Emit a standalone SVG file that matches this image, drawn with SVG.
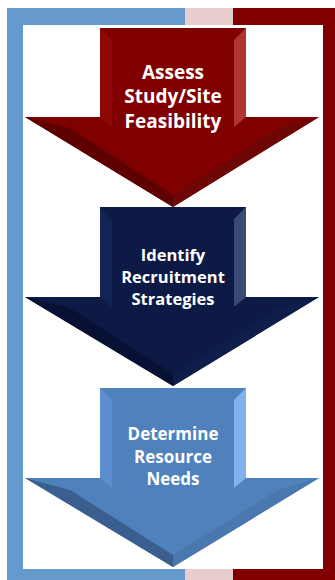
<svg xmlns="http://www.w3.org/2000/svg" width="335" height="580" viewBox="0 0 335 580">
<style>
.t{font-family:"Open Sans","Liberation Sans",sans-serif;font-weight:bold;fill:#fff;text-anchor:middle}
</style>
<g id="frame">
<rect x="7" y="8" width="328" height="572" fill="#800000"/>
<rect x="7" y="8" width="178" height="572" fill="#6699CC"/>
<rect x="185" y="8" width="48" height="572" fill="#E6CCCC"/>
<rect x="323" y="8" width="12" height="572" fill="#800000"/>
<rect x="23" y="25" width="300" height="544" fill="#fff"/>
</g>
<g id="connectors"/>
<g id="step1">
<polygon points="100,28 246,28 246,117 319,117 173,207 25,117 100,117" fill="#800000"/>
<polygon points="100,28 112,40 112,127 100,117" fill="#8E0606"/>
<polygon points="246,28 234,40 234,127 246,117" fill="#B03434"/>
<polygon points="25,117 70,128 173,195 173,207" fill="#5E0000"/>
<polygon points="319,117 278,128 173,195 173,207" fill="#6E0606"/>
<text class="t" font-size="19" x="173" y="79">Assess</text>
<text class="t" font-size="19" x="173" y="103">Study/Site</text>
<text class="t" font-size="19" x="173" y="128">Feasibility</text>
</g>
<g id="step2">
<polygon points="100,207 246,207 246,297 319,297 173,386 25,297 100,297" fill="#0C1A45"/>
<polygon points="100,207 112,219 112,307 100,297" fill="#142452"/>
<polygon points="246,207 234,219 234,307 246,297" fill="#3A4A72"/>
<polygon points="25,297 70,308 173,374 173,386" fill="#081133"/>
<polygon points="319,297 278,308 173,374 173,386" fill="#0E1D4A"/>
<text class="t" font-size="16.5" x="173" y="261">Identify</text>
<text class="t" font-size="16.5" x="173" y="283">Recruitment</text>
<text class="t" font-size="16.5" x="173" y="305">Strategies</text>
</g>
<g id="step3">
<polygon points="100,388 246,388 246,478 319,478 173,567 25,478 100,478" fill="#4F81BD"/>
<polygon points="100,388 112,400 112,488 100,478" fill="#5B8FD2"/>
<polygon points="246,388 234,400 234,488 246,478" fill="#80B2EE"/>
<polygon points="25,478 70,490 173,555 173,567" fill="#3A5F8F"/>
<polygon points="319,478 278,490 173,555 173,567" fill="#4A78AE"/>
<text class="t" font-size="17" x="173" y="440">Determine</text>
<text class="t" font-size="17" x="173" y="463">Resource</text>
<text class="t" font-size="17" x="173" y="485">Needs</text>
</g>
</svg>
